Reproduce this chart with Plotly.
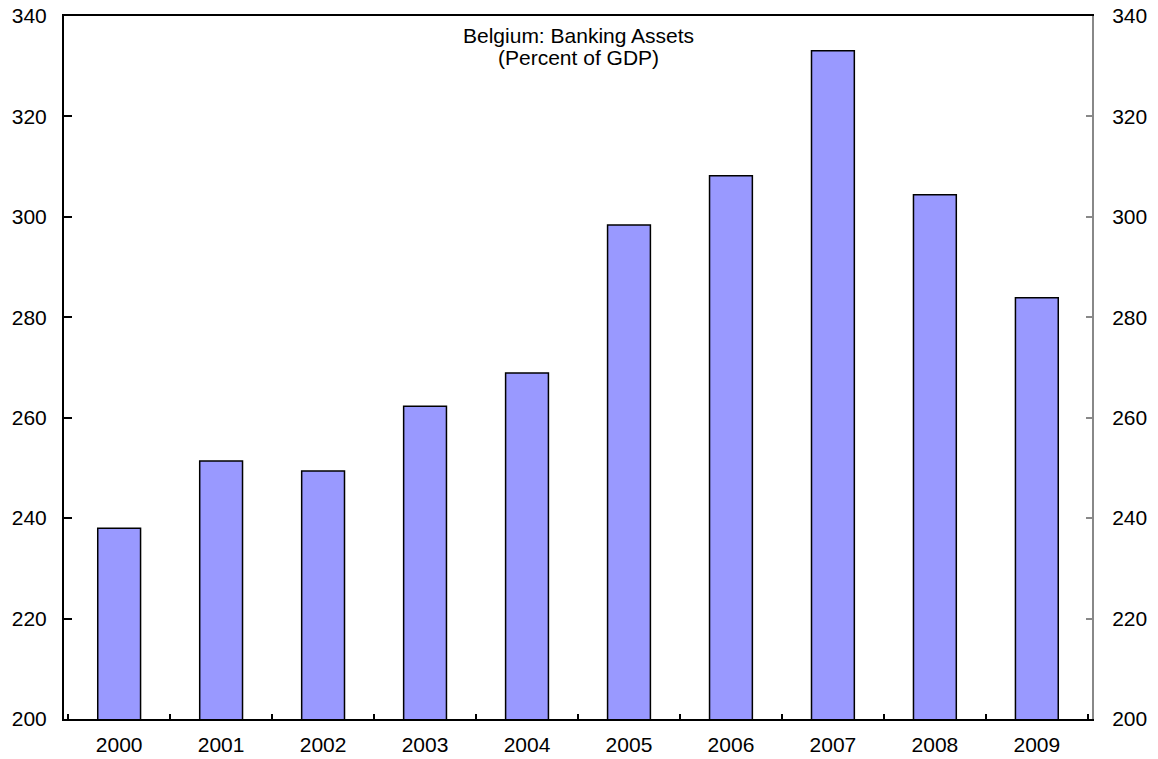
import plotly.graph_objects as go

years = ["2000", "2001", "2002", "2003", "2004", "2005", "2006", "2007", "2008", "2009"]
assets_pct_gdp = [238.0, 251.4, 249.4, 262.3, 268.9, 298.4, 308.2, 333.1, 304.4, 283.9]
y_ticks = [200, 220, 240, 260, 280, 300, 320, 340]
title_lines = ["Belgium: Banking Assets", "(Percent of GDP)"]

font_family = "Liberation Sans, Arial, sans-serif"
label_size = 21

fig = go.Figure()
fig.add_trace(go.Bar(
    x=years, y=assets_pct_gdp,
    marker=dict(color="#9999FF", line=dict(color="black", width=1.5)),
    showlegend=False,
))
# invisible companion trace so the right-hand axis is drawn
fig.add_trace(go.Scatter(
    x=years, y=assets_pct_gdp, yaxis="y2", mode="markers",
    marker=dict(opacity=0), hoverinfo="skip", showlegend=False,
))

fig.update_layout(
    width=1158, height=759,
    margin=dict(l=64, r=66, t=16, b=40, autoexpand=False),
    paper_bgcolor="white", plot_bgcolor="white",
    font=dict(family=font_family, size=label_size, color="black"),
    bargap=0.58,
    xaxis=dict(
        type="category", tickson="boundaries", automargin=False,
        ticks="inside", ticklen=5, tickwidth=2, tickcolor="black",
        showline=True, linecolor="black", linewidth=2, mirror=True,
        showgrid=False, tickfont=dict(size=label_size), ticklabelstandoff=6,
    ),
    yaxis=dict(
        range=[200, 340], tickvals=y_ticks, automargin=False,
        ticks="inside", ticklen=8, tickwidth=2, tickcolor="black",
        showline=True, linecolor="black", linewidth=2,
        showgrid=False, zeroline=False, tickfont=dict(size=label_size),
        ticklabelstandoff=11,
    ),
    yaxis2=dict(
        range=[200, 340], tickvals=y_ticks, overlaying="y", side="right",
        automargin=False,
        ticks="inside", ticklen=6, tickwidth=2, tickcolor="#888888",
        showline=True, linecolor="#888888", linewidth=2,
        showgrid=False, zeroline=False, tickfont=dict(size=label_size),
        ticklabelstandoff=14,
    ),
    annotations=[
        dict(
            text=line, xref="paper", yref="paper", x=0.5, y=1,
            yshift=-19 - 22 * i, xanchor="center", yanchor="middle",
            showarrow=False, font=dict(size=label_size),
        )
        for i, line in enumerate(title_lines)
    ],
)

fig.write_html("out.html")
